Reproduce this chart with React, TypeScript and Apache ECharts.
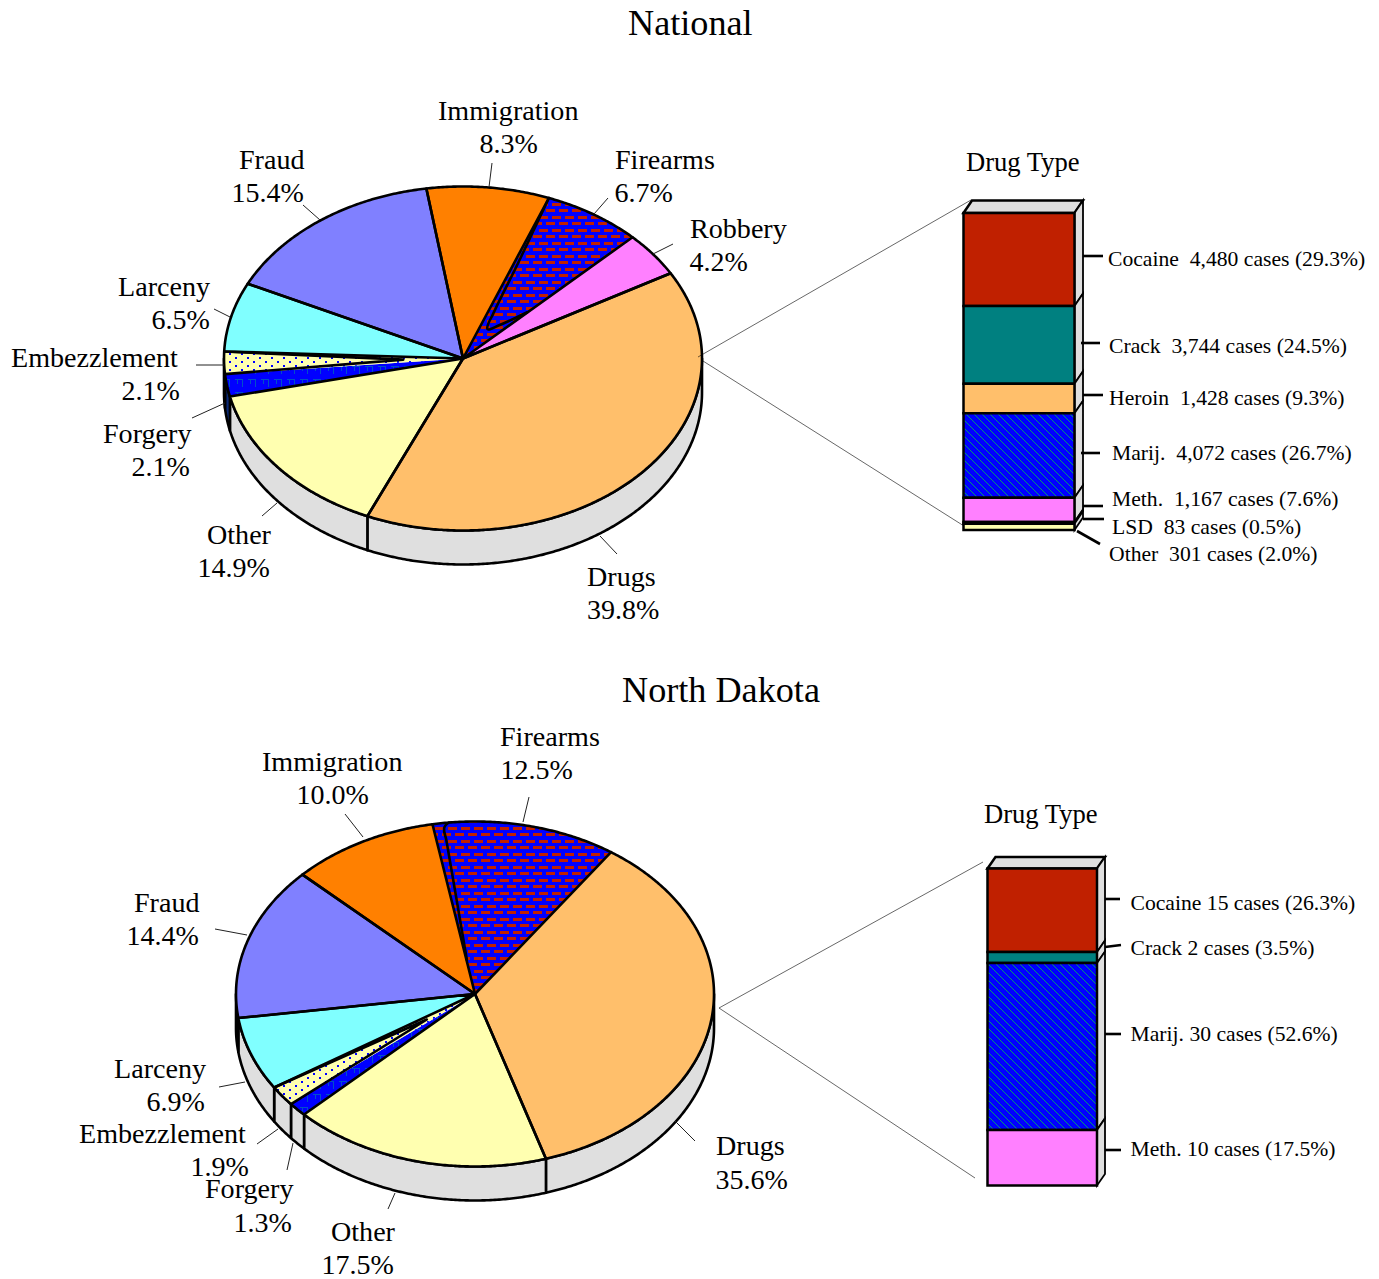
import React, { useEffect, useRef } from "react";
import * as echarts from "echarts";

const FONT = "'Liberation Serif', 'Times New Roman', serif";

// ---------- data ----------
const pieCategories = ["Drugs", "Other", "Forgery", "Embezzlement", "Larceny", "Fraud", "Immigration", "Firearms", "Robbery"];
const nationalShares = [39.8, 14.9, 2.1, 2.1, 6.5, 15.4, 8.3, 6.7, 4.2];
const dakotaCategories = ["Drugs", "Other", "Forgery", "Embezzlement", "Larceny", "Fraud", "Immigration", "Firearms"];
const dakotaShares = [35.6, 17.5, 1.3, 1.9, 6.9, 14.4, 10.0, 12.5];

const nationalDrugTypes = ["Cocaine", "Crack", "Heroin", "Marij.", "Meth.", "LSD", "Other"];
const nationalDrugCases = [4480, 3744, 1428, 4072, 1167, 83, 301];
const nationalDrugPct = [29.3, 24.5, 9.3, 26.7, 7.6, 0.5, 2.0];
const dakotaDrugTypes = ["Cocaine", "Crack", "Marij.", "Meth."];
const dakotaDrugCases = [15, 2, 30, 10];
const dakotaDrugPct = [26.3, 3.5, 52.6, 17.5];

// ---------- layout ----------
const nationalPie = { cx: 463, cy: 358.5, rx: 239, ry: 172, depth: 34, start: -29.7 };
const dakotaPie = { cx: 475, cy: 994, rx: 239, ry: 172.5, depth: 34, start: -55.3 };
const nationalBar = { left: 963.5, right: 1074.5, top: 213, bottom: 530, dx: 8.5, dy: 12.5 };
const dakotaBar = { left: 987.5, right: 1097, top: 868.5, bottom: 1185.5, dx: 8, dy: 11.5 };

// label line positions: name x, name y, value x, value y
const nationalLabelPos = [
  [587, 576, 587, 609], [207, 534, 197.5, 567], [103, 433, 131.5, 466], [11, 357, 121.5, 390], [118, 286, 151.5, 319],
  [239, 159, 231.5, 192], [438, 110, 479.5, 143], [615, 159, 614.5, 192], [690, 228, 689.5, 261],
];
const dakotaLabelPos = [
  [716, 1145, 715.5, 1179], [331, 1231, 321.5, 1264], [205, 1188, 233.5, 1222], [79, 1133, 190.5, 1166], [114, 1068, 146.5, 1101],
  [134, 902, 126.5, 935], [262, 761, 296.5, 794], [500, 736, 500.5, 769],
];
const nationalLeaders = [
  [600, 536, 617, 554], [262, 516, 277, 503], [192, 418, 225, 403], [196, 365, 224, 365], [214, 309, 230, 317],
  [303, 205, 320, 220], [492, 163, 489, 187], [608, 198, 594, 214], [673, 244, 653, 254],
];
const dakotaLeaders = [
  [675, 1121, 695, 1141], [388, 1209, 395, 1193], [287, 1170, 293, 1143], [257, 1144, 278, 1129], [219, 1087, 245, 1082],
  [215, 929, 247, 935], [345, 814, 363, 837], [529, 797, 523, 822],
];
const connectors = [
  [698, 357, 971, 200], [703, 361, 964, 526], [719, 1008, 983, 862], [719, 1008, 975, 1178],
];
const nationalTicks = [
  [1083, 256, 1103, 256], [1081, 343, 1100, 343], [1083, 395, 1103, 395], [1081, 453, 1100, 453],
  [1083, 506, 1103, 506], [1083, 519, 1104, 519], [1077, 531, 1100, 544],
];
const dakotaTicks = [[1105, 899, 1120, 899], [1105, 947, 1121, 945], [1105, 1034, 1121, 1034], [1105, 1150, 1121, 1150]];
const nationalTextPos = [[1108, 259], [1109, 346], [1109, 398], [1112, 453], [1112, 499], [1112, 527], [1109, 554]];
const dakotaTextPos = [[1130.5, 903], [1130.5, 948], [1130.5, 1034], [1130.5, 1149]];

function pat(w: number, h: number, bg: string, draw: (c: CanvasRenderingContext2D) => void) {
  const cv = document.createElement("canvas");
  cv.width = w; cv.height = h;
  const c = cv.getContext("2d") as CanvasRenderingContext2D;
  c.fillStyle = bg; c.fillRect(0, 0, w, h);
  draw(c);
  return { image: cv, repeat: "repeat", imageWidth: w, imageHeight: h };
}

function buildFills() {
  const brick = pat(13, 13, "#0000ff", (c) => {
    c.fillStyle = "#c02000";
    c.fillRect(0, 1, 9, 3); c.fillRect(6, 8, 7, 3); c.fillRect(0, 8, 2, 3);
  });
  const dots = pat(12, 8, "#ffffb0", (c) => {
    c.fillStyle = "#0000ff";
    c.fillRect(1, 1, 2, 2); c.fillRect(7, 5, 2, 2);
  });
  const weave = pat(13, 13, "#0000ff", (c) => {
    c.fillStyle = "#0050c8";
    c.fillRect(1, 2, 8, 1); c.fillRect(8, 2, 1, 8); c.fillRect(3, 2, 1, 5);
  });
  const hatch = pat(8, 8, "#0000ff", (c) => {
    c.fillStyle = "#009a70";
    for (let i = 0; i < 8; i++) c.fillRect(i, i, 1, 1);
  });
  return {
    pie: {
      Drugs: "#ffbf6b", Other: "#ffffb0", Forgery: weave, Embezzlement: dots, Larceny: "#80ffff",
      Fraud: "#8080ff", Immigration: "#ff8000", Firearms: brick, Robbery: "#ff80ff",
    } as Record<string, any>,
    bar: { Cocaine: "#c02000", Crack: "#008080", Heroin: "#ffbf6b", "Marij.": hatch, "Meth.": "#ff80ff", LSD: "#ffffb0", Other: "#ffffb0" } as Record<string, any>,
  };
}

type Pie = typeof nationalPie;

function angles(shares: number[], start: number) {
  const sum = shares.reduce((a, b) => a + b, 0);
  let cur = start;
  return shares.map((s) => {
    const a = cur;
    cur += (s / sum) * 360;
    return [a, cur];
  });
}
const polar = (p: Pie, t: number, f = 1, off = 0) => {
  const r = (t * Math.PI) / 180;
  return [p.cx + p.rx * f * Math.cos(r), p.cy + p.ry * f * Math.sin(r) + off];
};
const arc = (p: Pie, a: number, b: number, off = 0) => {
  const pts: number[][] = [];
  const n = Math.max(2, Math.ceil(Math.abs(b - a) * 2));
  for (let i = 0; i <= n; i++) pts.push(polar(p, a + ((b - a) * i) / n, 1, off));
  return pts;
};

function pieSeries(p: Pie, cats: string[], shares: number[], fills: Record<string, any>, darkWall: boolean, trace: (a: number, b: number) => number[][]) {
  const ang = angles(shares, p.start);
  const stroke = { stroke: "#000", lineWidth: 2.6, lineJoin: "round", lineCap: "round" };
  const wall = {
    type: "custom", coordinateSystem: "none", silent: true, data: shares,
    renderItem: (params: any) => {
      const [a, b] = ang[params.dataIndex];
      const s = Math.max(a, 0), e = Math.min(b, 180);
      if (e <= s) return null;
      const dark = darkWall && cats[params.dataIndex] === "Forgery";
      return {
        type: "polygon",
        shape: { points: [...arc(p, s, e), ...arc(p, e, s, p.depth)] },
        style: { fill: dark ? "#0a2a78" : "#dfdfdf", ...stroke },
      };
    },
  };
  const top = {
    type: "custom", coordinateSystem: "none", silent: true, data: shares,
    renderItem: (params: any) => {
      const [a, b] = ang[params.dataIndex];
      return {
        type: "polygon",
        shape: { points: [[p.cx, p.cy], ...arc(p, a, b)] },
        style: { fill: fills[cats[params.dataIndex]], stroke: "none" },
      };
    },
  };
  const edges = {
    type: "custom", coordinateSystem: "none", silent: true, data: shares,
    renderItem: (params: any) => {
      const cat = cats[params.dataIndex];
      const [a, b] = ang[params.dataIndex];
      const rim = arc(p, a, b);
      const none = "none";
      if (cat === "Forgery" || cat === "Embezzlement") {
        const lines: any[] = [{ type: "polyline", shape: { points: rim }, style: { fill: none, ...stroke } }];
        if (cat === "Embezzlement") {
          const tip = polar(p, (a + b) / 2, 0.25);
          lines.push({ type: "polyline", shape: { points: [rim[0], tip, rim[rim.length - 1]] }, style: { fill: none, ...stroke } });
        }
        return { type: "group", children: lines };
      }
      if (cat === "Firearms") {
        const pts = trace(a, b).map(([t, f]) => polar(p, t, f));
        return {
          type: "group",
          children: [
            { type: "polyline", shape: { points: rim }, style: { fill: none, ...stroke } },
            { type: "polyline", shape: { points: pts, smooth: 0.4 }, style: { fill: none, ...stroke } },
          ],
        };
      }
      return {
        type: "polygon",
        shape: { points: [[p.cx, p.cy], ...rim] },
        style: { fill: none, ...stroke },
      };
    },
  };
  return [wall, top, edges];
}

function barSeries(b: typeof nationalBar, idx: number, types: string[], cases: number[], fills: Record<string, any>) {
  let cum = 0;
  const spans = cases.map((c) => { const s = [cum, cum + c]; cum += c; return s; });
  const st = { stroke: "#000", lineWidth: 2.5, lineJoin: "miter" };
  const thin = { stroke: "#000", lineWidth: 1.8, lineJoin: "miter" };
  return {
    type: "custom", coordinateSystem: "cartesian2d", xAxisIndex: idx, yAxisIndex: idx, silent: true, clip: false,
    encode: { x: 2, y: 0 },
    data: spans.map((s) => [s[0], s[1], 0.5]),
    renderItem: (params: any, api: any) => {
      const i = params.dataIndex;
      const [l, y0] = api.coord([0, api.value(0)]);
      const [r, y1] = api.coord([1, api.value(1)]);
      const children: any[] = [];
      if (i === 0) {
        children.push({
          type: "polygon",
          shape: { points: [[l, y0], [l + b.dx, y0 - b.dy], [r + b.dx, y0 - b.dy], [r, y0]] },
          style: { fill: "#dfdfdf", ...st },
        });
      }
      children.push({
        type: "polygon",
        shape: { points: [[r, y0], [r + b.dx, y0 - b.dy], [r + b.dx, y1 - b.dy], [r, y1]] },
        style: { fill: "#dfdfdf", ...thin },
      });
      children.push({
        type: "rect",
        shape: { x: l, y: y0, width: r - l, height: y1 - y0 },
        style: { fill: fills[types[i]], ...st },
      });
      return { type: "group", children };
    },
  };
}

const line = (s: number[], w: number, color = "#000") => ({
  type: "line", silent: true, z: 20,
  shape: { x1: s[0], y1: s[1], x2: s[2], y2: s[3] },
  style: { stroke: color, lineWidth: w },
});
const text = (t: string, x: number, y: number, size: number) => ({
  type: "text", silent: true, z: 30, x, y,
  style: { text: t, fontFamily: FONT, fontSize: size, fill: "#000", textVerticalAlign: "middle", textAlign: "left" },
});

function App() {
  const ref = useRef<HTMLDivElement>(null);
  useEffect(() => {
    if (!ref.current) return;
    const chart = echarts.init(ref.current, undefined, { renderer: "svg" });
    const fills = buildFills();
    const nationalTrace = (a: number, b: number) => [[a, 1], [a + 1.5, 0.6], [a + 4.8, 0.29], [a + 9.5, 0.2], [b - 7.6, 0.24], [b - 0.2, 0.38]];
    const dakotaTrace = (a: number) => [[a + 4, 1], [a + 2.6, 0.97], [a + 2.6, 0.9], [a + 0.5, 0.2]];

    const graphic: any[] = [];
    connectors.forEach((c) => graphic.push(line(c, 0.6, "#000")));
    [...nationalLeaders, ...dakotaLeaders].forEach((l) => graphic.push(line(l, 1, "#222")));
    [...nationalTicks, ...dakotaTicks].forEach((l) => graphic.push(line(l, 2.6)));
    pieCategories.forEach((c, i) => {
      const q = nationalLabelPos[i];
      graphic.push(text(c, q[0], q[1], 28.1), text(nationalShares[i].toFixed(1) + "%", q[2], q[3], 28));
    });
    dakotaCategories.forEach((c, i) => {
      const q = dakotaLabelPos[i];
      graphic.push(text(c, q[0], q[1], 28.1), text(dakotaShares[i].toFixed(1) + "%", q[2], q[3], 28));
    });
    graphic.push(text("Drug Type", 966, 161.5, 26.6), text("Drug Type", 984, 813.5, 26.6));
    nationalDrugTypes.forEach((t, i) => {
      const q = nationalTextPos[i];
      graphic.push(text(`${t}  ${nationalDrugCases[i].toLocaleString("en-US")} cases (${nationalDrugPct[i].toFixed(1)}%)`, q[0], q[1], 21.65));
    });
    dakotaDrugTypes.forEach((t, i) => {
      const q = dakotaTextPos[i];
      graphic.push(text(`${t} ${dakotaDrugCases[i]} cases (${dakotaDrugPct[i].toFixed(1)}%)`, q[0], q[1], 21.65));
    });

    const nTotal = nationalDrugCases.reduce((a, b) => a + b, 0);
    const dTotal = dakotaDrugCases.reduce((a, b) => a + b, 0);
    const gridOf = (b: typeof nationalBar) => ({ left: b.left, top: b.top, width: b.right - b.left, height: b.bottom - b.top, show: false });

    chart.setOption({
      animation: false,
      backgroundColor: "#fff",
      title: [
        { text: "National", left: 628, top: 5, padding: 0, textStyle: { fontFamily: FONT, fontSize: 36.2, fontWeight: "normal", color: "#000" } },
        { text: "North Dakota", left: 622, top: 672, padding: 0, textStyle: { fontFamily: FONT, fontSize: 36.2, fontWeight: "normal", color: "#000" } },
      ],
      grid: [gridOf(nationalBar), gridOf(dakotaBar)],
      xAxis: [
        { type: "value", gridIndex: 0, min: 0, max: 1, show: false },
        { type: "value", gridIndex: 1, min: 0, max: 1, show: false },
      ],
      yAxis: [
        { type: "value", gridIndex: 0, min: 0, max: nTotal, inverse: true, show: false },
        { type: "value", gridIndex: 1, min: 0, max: dTotal, inverse: true, show: false },
      ],
      graphic,
      series: [
        ...pieSeries(nationalPie, pieCategories, nationalShares, fills.pie, true, nationalTrace),
        ...pieSeries(dakotaPie, dakotaCategories, dakotaShares, fills.pie, false, dakotaTrace as any),
        barSeries(nationalBar, 0, nationalDrugTypes, nationalDrugCases, fills.bar),
        barSeries(dakotaBar, 1, dakotaDrugTypes, dakotaDrugCases, fills.bar),
      ],
    });
    return () => chart.dispose();
  }, []);
  return <div ref={ref} style={{ position: "absolute", left: 0, top: 0, width: 1379, height: 1279 }} />;
}

export default App;
